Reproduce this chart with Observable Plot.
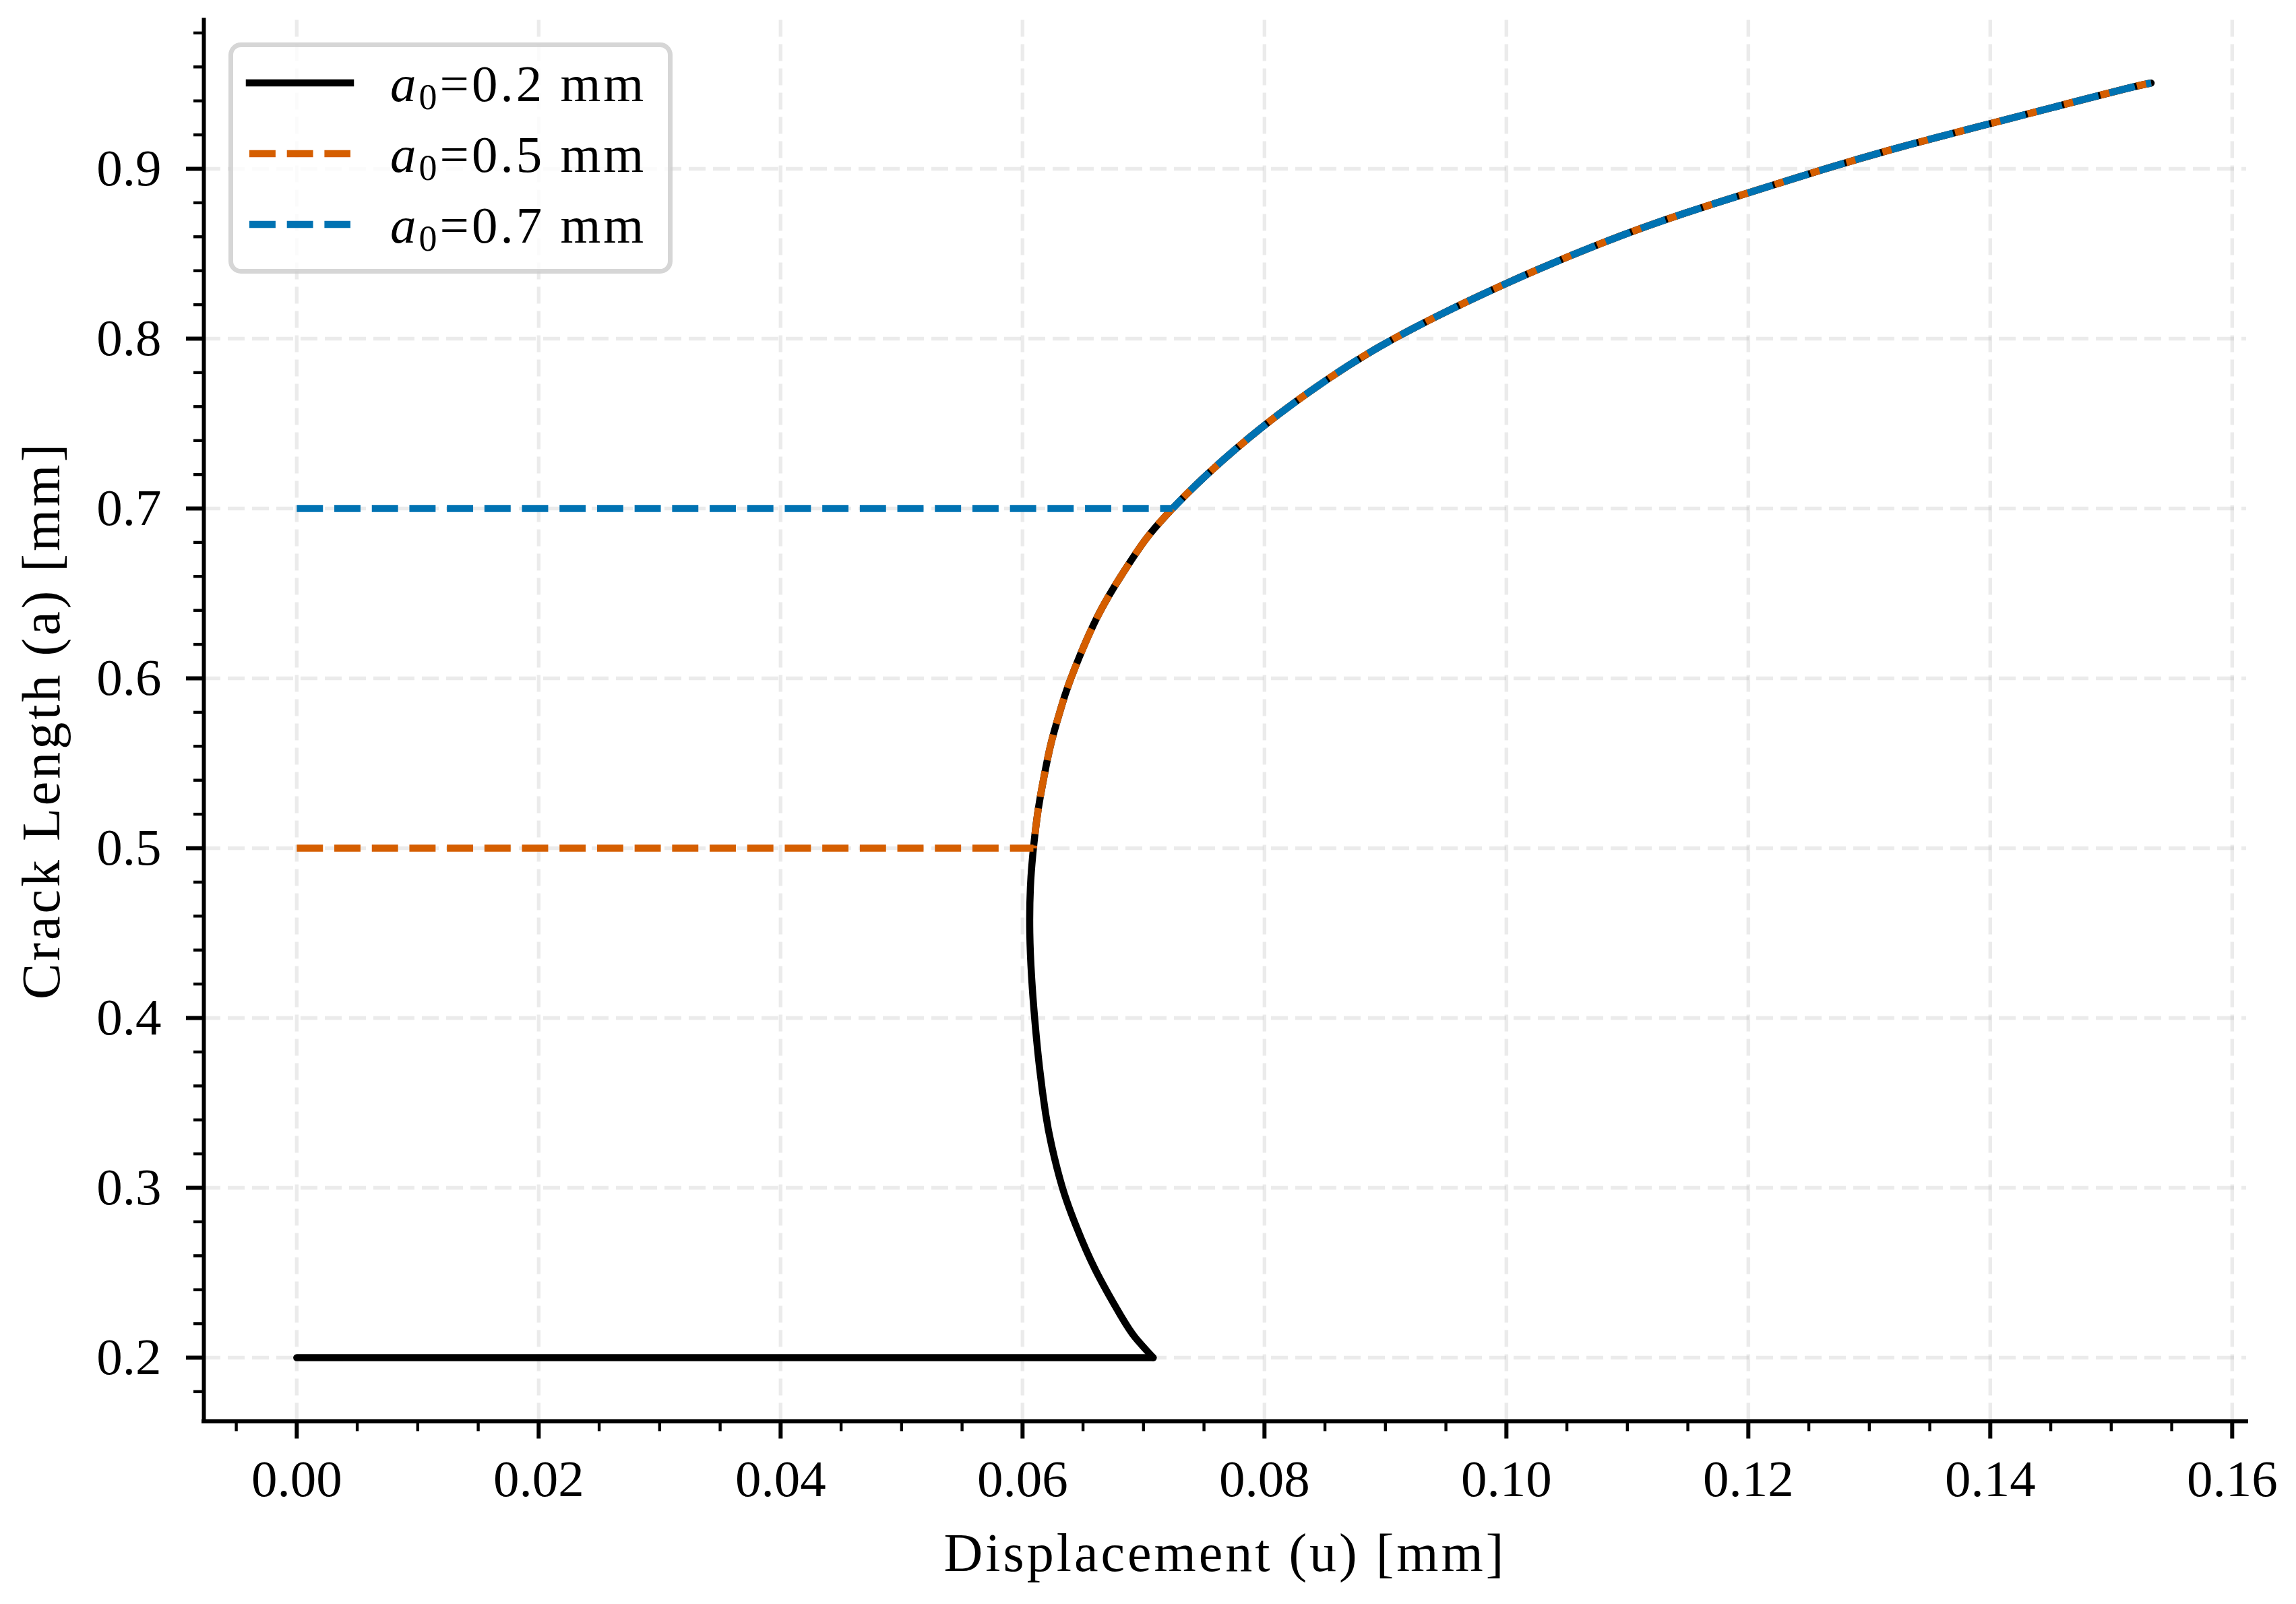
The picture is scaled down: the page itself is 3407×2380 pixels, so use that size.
<!DOCTYPE html>
<html>
<head>
<meta charset="utf-8">
<script src="https://cdn.jsdelivr.net/npm/d3@7"></script>
<script src="https://cdn.jsdelivr.net/npm/@observablehq/plot@0.6"></script>
<style>
  html, body { margin: 0; padding: 0; background: #fff; overflow: hidden; }
  #chart svg { display: block; }
</style>
</head>
<body>
<div id="chart"></div>
<script>
// ---- tick values and labels ----
const xTicks = [0, 0.02, 0.04, 0.06, 0.08, 0.10, 0.12, 0.14, 0.16];
const xTickLabels = ["0.00", "0.02", "0.04", "0.06", "0.08", "0.10", "0.12", "0.14", "0.16"];
const xMinor = [-0.005, 0.005, 0.01, 0.015, 0.025, 0.03, 0.035, 0.045, 0.05, 0.055, 0.065, 0.07, 0.075,
                0.085, 0.09, 0.095, 0.105, 0.11, 0.115, 0.125, 0.13, 0.135, 0.145, 0.15, 0.155];
const yTicks = [0.2, 0.3, 0.4, 0.5, 0.6, 0.7, 0.8, 0.9];
const yTickLabels = ["0.2", "0.3", "0.4", "0.5", "0.6", "0.7", "0.8", "0.9"];
const yMinor = [0.18, 0.22, 0.24, 0.26, 0.28, 0.32, 0.34, 0.36, 0.38, 0.42, 0.44, 0.46, 0.48,
                0.52, 0.54, 0.56, 0.58, 0.62, 0.64, 0.66, 0.68, 0.72, 0.74, 0.76, 0.78,
                0.82, 0.84, 0.86, 0.88, 0.92, 0.94, 0.96, 0.98];
const xDomain = [-0.00768, 0.16118];
const yDomain = [0.1625, 0.9875];
const xLabel = "Displacement (u) [mm]";
const yLabel = "Crack Length (a) [mm]";

// ---- crack growth path: displacement u, crack length a ----
const pathA = [0.200, 0.212, 0.225, 0.252, 0.278, 0.300, 0.325, 0.344, 0.371, 0.400, 0.424, 0.450,
               0.477, 0.500, 0.523, 0.543, 0.563, 0.583, 0.600, 0.635, 0.662, 0.682, 0.700, 0.721,
               0.749, 0.776, 0.800, 0.829, 0.856, 0.874, 0.889, 0.902, 0.914, 0.925, 0.936, 0.947, 0.9505];
const pathU = [0.0708, 0.0693, 0.0681, 0.0660, 0.0644, 0.0633, 0.0624, 0.0619, 0.0614, 0.0610, 0.06075, 0.0606,
               0.06065, 0.0609, 0.0613, 0.0618, 0.0624, 0.0632, 0.0640, 0.0661, 0.0683, 0.0702, 0.0724, 0.0754,
               0.0800, 0.0852, 0.0907, 0.0989, 0.1078, 0.1148, 0.1214, 0.1273, 0.1332, 0.1391, 0.1451, 0.1511, 0.1533];

// ---- series ----
const a0Values = [0.2, 0.5, 0.7];
const seriesNames = ["0.2", "0.5", "0.7"];
const seriesColors = ["#000000", "#D55E00", "#0072B2"];
const seriesDashed = [false, true, true];

const W = 3407, H = 2380;
const mL = 302, mR = 74, mT = 29.5, mB = 271.5;
const pxPerU = (W - mL - mR) / (xDomain[1] - xDomain[0]);

const path = pathA.map((a, i) => ({u: pathU[i], a}));

const lineMarks = [];
a0Values.forEach((a0, k) => {
  const start = path.find(p => Math.abs(p.a - a0) < 1e-9);
  const horiz = [{u: 0, a: a0}, {u: start.u, a: a0}];
  const curvePts = path.filter(p => p.a >= a0 - 1e-9);
  const common = {
    x: "u", y: "a",
    stroke: seriesColors[k],
    strokeWidth: 10.5,
    strokeLinejoin: "round",
    strokeLinecap: seriesDashed[k] ? "butt" : "round",
    strokeDasharray: seriesDashed[k] ? "38.9,16.8" : null
  };
  lineMarks.push(Plot.line(horiz, {...common}));
  lineMarks.push(Plot.line(curvePts, {...common, curve: "natural",
    strokeDashoffset: seriesDashed[k] ? start.u * pxPerU : 0}));
});

const gridStyle = {stroke: "#b0b0b0", strokeOpacity: 0.25, strokeWidth: 5.4, strokeDasharray: "25,11"};

const plot = Plot.plot({
  width: W,
  height: H,
  marginLeft: mL,
  marginRight: mR,
  marginTop: mT,
  marginBottom: mB,
  x: {domain: xDomain},
  y: {domain: yDomain},
  style: {fontFamily: "'Liberation Serif', serif", fontSize: "77px", background: "#ffffff", color: "#000000", overflow: "visible"},
  marks: [
    Plot.gridX(xTicks, gridStyle),
    Plot.gridY(yTicks, gridStyle),
    ...lineMarks,
    Plot.axisX(xMinor, {tickSize: 15, strokeWidth: 4.4, tickFormat: () => "", label: null}),
    Plot.axisX(xTicks, {tickSize: 26, strokeWidth: 6, tickPadding: 30, fontSize: 77,
      tickFormat: d => xTickLabels[xTicks.indexOf(d)], label: null}),
    Plot.axisY(yMinor, {tickSize: 15, strokeWidth: 4.4, tickFormat: () => "", label: null}),
    Plot.axisY(yTicks, {tickSize: 26, strokeWidth: 6, tickPadding: 37, fontSize: 77,
      tickFormat: d => yTickLabels[yTicks.indexOf(d)], label: null}),
    Plot.ruleX([xDomain[0]], {strokeWidth: 5.9, strokeLinecap: "square"}),
    Plot.ruleY([yDomain[0]], {strokeWidth: 5.9, strokeLinecap: "square"}),
    Plot.text([xLabel], {text: d => d, frameAnchor: "bottom", dy: 196, fontSize: 80, fill: "#000",
      lineAnchor: "middle", textAnchor: "middle"})
  ]
});

document.getElementById("chart").appendChild(plot);

// ---- y label and legend ----
const svg = d3.select(plot);
const ys = plot.scale("y");
const yMid = (ys.apply(yDomain[0]) + ys.apply(yDomain[1])) / 2;

svg.selectAll("text").filter(function() { return this.textContent === xLabel; })
  .attr("letter-spacing", 4);

svg.append("text")
  .attr("transform", `translate(88,${yMid}) rotate(-90)`)
  .attr("text-anchor", "middle")
  .attr("font-size", 80)
  .attr("letter-spacing", 4)
  .attr("fill", "#000")
  .text(yLabel);

const lg = svg.append("g");
lg.append("rect")
  .attr("x", 342.5).attr("y", 66.5).attr("width", 652).attr("height", 336)
  .attr("rx", 15).attr("ry", 15)
  .attr("fill", "#ffffff").attr("fill-opacity", 0.8)
  .attr("stroke", "#cccccc").attr("stroke-opacity", 0.8).attr("stroke-width", 7);

seriesNames.forEach((name, k) => {
  const cy = 123 + k * 105;
  lg.append("line")
    .attr("x1", 370).attr("x2", 520).attr("y1", cy).attr("y2", cy)
    .attr("stroke", seriesColors[k]).attr("stroke-width", 10.5)
    .attr("stroke-linecap", seriesDashed[k] ? "butt" : "square")
    .attr("stroke-dasharray", seriesDashed[k] ? "38.9,16.8" : null);
  const t = lg.append("text")
    .attr("x", 579).attr("y", cy + 27)
    .attr("text-anchor", "start")
    .attr("font-size", 77)
    .attr("letter-spacing", 4)
    .attr("fill", "#000");
  t.append("tspan").attr("font-style", "italic").text("a");
  t.append("tspan").attr("font-size", 54).attr("dy", 12).text("0");
  t.append("tspan").attr("dy", -12).text("=" + name + " mm");
});
</script>
</body>
</html>
